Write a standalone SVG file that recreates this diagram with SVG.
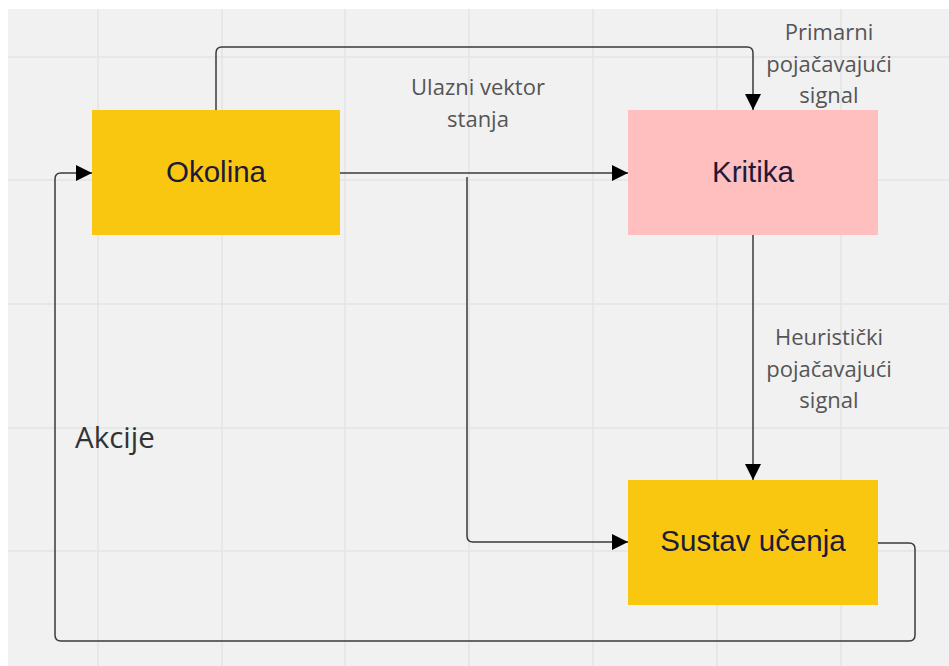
<svg xmlns="http://www.w3.org/2000/svg" width="949" height="666" viewBox="0 0 949 666">
<defs>
<marker id="arr" markerWidth="16" markerHeight="16" refX="16" refY="8" orient="auto" markerUnits="userSpaceOnUse">
<path d="M0,0 L16,8 L0,16 Z" fill="#000"/>
</marker>
<style>
.grid{stroke:#e4e4e4;stroke-width:1.5}
.conn{fill:none;stroke:#3a3a3a;stroke-width:1.5}
.node{font-family:Arial,"Liberation Sans",sans-serif;font-size:29.5px;fill:#1c1a3d;text-anchor:middle}
.lbl{font-family:"Open Sans",sans-serif;font-size:22px;fill:#555;text-anchor:middle}
</style>
</defs>
<rect x="0" y="0" width="949" height="666" fill="#fff"/>
<rect x="8" y="9" width="941" height="657" fill="#f1f1f1"/>
<g id="grid">
<path class="grid" d="M98,9V666M222,9V666M345,9V666M469,9V666M593,9V666M717,9V666M841,9V666M8,57H949M8,180H949M8,304H949M8,428H949M8,551H949"/>
</g>
<g id="okolina">
<rect x="92" y="110" width="248" height="125" fill="#f9c710"/>
<text class="node" x="216" y="182">Okolina</text>
</g>
<g id="kritika">
<rect x="628" y="110" width="250" height="125" fill="#ffbfbf"/>
<text class="node" x="753" y="182">Kritika</text>
</g>
<g id="sustav">
<rect x="628" y="480" width="250" height="125" fill="#f9c710"/>
<text class="node" x="753" y="551">Sustav učenja</text>
</g>
<g id="connectors">
<path class="conn" marker-end="url(#arr)" d="M216,110 V53 Q216,47 222,47 H747 Q753,47 753,53 V110"/>
<path class="conn" marker-end="url(#arr)" d="M340,173 H628"/>
<path class="conn" marker-end="url(#arr)" d="M467,177 V536 Q467,542 473,542 H628"/>
<path class="conn" marker-end="url(#arr)" d="M753,235 V480"/>
<path class="conn" marker-end="url(#arr)" d="M878,543 H909 Q915,543 915,549 V635 Q915,641 909,641 H61 Q55,641 55,635 V179 Q55,173 61,173 H92"/>
</g>
<g id="labels">
<text class="lbl" x="478" y="95">Ulazni vektor</text>
<text class="lbl" x="478" y="127">stanja</text>
<text class="lbl" x="829" y="40">Primarni</text>
<text class="lbl" x="829" y="72">pojačavajući</text>
<text class="lbl" x="829" y="103">signal</text>
<text class="lbl" x="829" y="345">Heuristički</text>
<text class="lbl" x="829" y="377">pojačavajući</text>
<text class="lbl" x="829" y="408">signal</text>
<text x="75" y="448" style="font-family:'Open Sans',sans-serif;font-size:29.5px;fill:#333">Akcije</text>
</g>
</svg>
